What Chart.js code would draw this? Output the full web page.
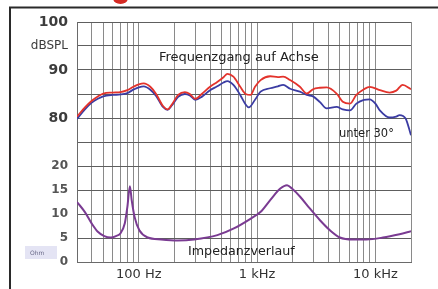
<!DOCTYPE html>
<html><head><meta charset="utf-8">
<script src="https://cdn.jsdelivr.net/npm/chart.js@4.4.1/dist/chart.umd.min.js"></script>
<style>html,body{margin:0;padding:0;background:#fff;}canvas{display:block;}</style>
</head><body>
<canvas id="c" width="438" height="289"></canvas>
<script>
// ---- data ----
const gridFreqs = [30,40,50,60,70,80,90,100,200,300,400,500,600,700,800,900,1000,2000,3000,4000,5000,6000,7000,8000,9000,10000,20000];
const xTickLabels = {100:"100 Hz", 1000:"1 kHz", 10000:"10 kHz"};
const yTickLabels = {100:"100", 95:"dBSPL", 90:"90", 85:"", 80:"80", 75:"", 70:"20", 65:"15", 60:"10", 55:"5", 50:"0"};

const onAxisFreq = [30,35,40,45,50,60,70,80,90,100,110,125,140,160,175,190,215,245,270,300,340,400,460,520,560,630,720,800,880,960,1070,1290,1500,1660,1900,2300,2630,2970,3400,3870,4700,5300,6100,6900,8000,8950,10900,13200,15000,17000,20000];
const onAxisDb   = [80.3,82.2,83.6,84.5,85.1,85.3,85.4,85.8,86.5,87.0,87.2,86.5,85.0,82.5,81.8,82.8,84.8,85.4,85.0,84.0,85.0,86.5,87.5,88.5,89.2,88.6,86.5,85.0,84.8,86.5,87.9,88.7,88.5,88.6,87.9,86.5,85.1,86.0,86.3,86.4,85.1,83.4,83.0,84.8,86.0,86.5,85.8,85.3,85.7,86.9,86.0];

const offAxisFreq = [30,35,40,45,50,60,70,80,90,100,110,125,140,160,175,190,215,245,270,300,340,400,460,520,560,630,720,800,850,960,1070,1290,1500,1660,1900,2300,2630,2970,3400,3870,4700,5300,6100,6900,8000,8950,10000,10900,13200,15000,16000,18000,20000];
const offAxisDb   = [79.8,81.8,83.2,84.0,84.5,84.8,84.9,85.2,85.9,86.4,86.6,85.9,84.6,82.3,81.7,82.6,84.4,85.0,84.7,83.8,84.4,85.8,86.6,87.4,87.7,86.9,84.8,82.8,82.2,83.8,85.5,86.2,86.6,86.9,86.1,85.5,84.8,84.5,83.3,82.0,82.3,81.8,81.6,83.0,83.8,83.9,83.0,81.6,80.1,80.3,80.6,79.9,76.4];

const impFreq = [30,35,40,45,51,58,64,70,76,80,84,87,92,101,119,154,213,293,461,636,878,1066,1290,1570,1790,1970,2310,2800,3400,4130,5010,6480,8400,11600,16000,20000];
const impOhm  = [12.5,10.4,8.0,6.3,5.4,5.1,5.4,6.0,8.0,11.5,15.8,12.9,9.4,6.6,5.1,4.7,4.5,4.7,5.6,7.0,9.0,10.4,12.9,15.3,16.0,15.3,13.6,11.1,8.7,6.6,5.1,4.7,4.7,5.1,5.8,6.4];

const labels = {onAxis:"Frequenzgang auf Achse", offAxis:"unter 30°", impedance:"Impedanzverlauf", ohm:"Ohm"};

function pts(xs, ys){ return xs.map((x,i)=>({x:x, y:ys[i]})); }

const FONT = "'DejaVu Sans', sans-serif";

const decor = {
  id:'decor',
  beforeDraw(chart){
    const ctx = chart.ctx;
    ctx.save();
    ctx.fillStyle = '#fff';
    ctx.fillRect(0,0,chart.width,chart.height);
    // red partial mark at top
    ctx.fillStyle = '#d42a24';
    ctx.beginPath();
    ctx.ellipse(120.5, -2, 7.5, 6, 0, 0, Math.PI*2);
    ctx.fill();
    // outer frame
    ctx.strokeStyle = '#2a2a2a';
    ctx.lineWidth = 2;
    ctx.beginPath();
    ctx.moveTo(10, 289); ctx.lineTo(10, 7.5); ctx.lineTo(438, 7.5);
    ctx.stroke();
    // Ohm box
    ctx.fillStyle = '#e4e4f4';
    ctx.fillRect(25, 246, 32, 13);
    ctx.fillStyle = '#6a6a88';
    ctx.font = "6px " + FONT;
    ctx.textBaseline = 'middle';
    ctx.fillText(labels.ohm, 30, 253);
    ctx.restore();
  },
  afterDatasetsDraw(chart){
    const ctx = chart.ctx;
    ctx.save();
    ctx.fillStyle = '#222';
    ctx.textBaseline = 'alphabetic';
    ctx.font = "13px " + FONT;
    ctx.fillText(labels.onAxis, 159, 61);
    ctx.font = "11.5px " + FONT;
    ctx.fillText(labels.offAxis, 339, 137);
    ctx.font = "12.7px " + FONT;
    ctx.fillText(labels.impedance, 188, 254.5);
    ctx.restore();
  }
};

new Chart(document.getElementById('c'), {
  type:'line',
  data:{
    datasets:[
      {label:labels.onAxis, data:pts(onAxisFreq,onAxisDb), borderColor:'#e3332c', borderWidth:1.8, pointRadius:0, cubicInterpolationMode:'monotone', yAxisID:'y'},
      {label:labels.offAxis, data:pts(offAxisFreq,offAxisDb), borderColor:'#3b3ca3', borderWidth:1.8, pointRadius:0, cubicInterpolationMode:'monotone', yAxisID:'y'},
      {label:labels.impedance, data:pts(impFreq,impOhm), borderColor:'#7a3b92', borderWidth:2, pointRadius:0, cubicInterpolationMode:'monotone', yAxisID:'y2'}
    ]
  },
  options:{
    responsive:false,
    animation:false,
    devicePixelRatio:1,
    layout:{padding:{top:22,right:27,left:0,bottom:0}},
    plugins:{legend:{display:false}, tooltip:{enabled:false}},
    scales:{
      x:{
        type:'logarithmic', min:30, max:20000,
        afterBuildTicks(s){ s.ticks = gridFreqs.map(v=>({value:v})); },
        afterFit(s){ s.height = 27; },
        grid:{color:'#8a8a8a', lineWidth:1, drawTicks:false},
        border:{display:true, color:'#6a6a6a'},
        ticks:{autoSkip:false, maxRotation:0, padding:5, color:'#333', font:{family:FONT, size:13},
          callback(v){ return xTickLabels[v] || ''; }}
      },
      y:{
        min:50, max:100,
        afterBuildTicks(s){ s.ticks = Object.keys(yTickLabels).map(Number).sort((a,b)=>a-b).map(v=>({value:v})); },
        afterFit(s){ s.width = 77; },
        grid:{color:'#5e5e5e', lineWidth:1, drawTicks:false},
        border:{display:true, color:'#6a6a6a'},
        ticks:{padding:9, autoSkip:false,
          color(ctx){ return ctx.tick && ctx.tick.value>=75 ? '#3c3c3c' : '#555'; },
          font(ctx){
            const v = ctx.tick ? ctx.tick.value : 0;
            if (v===95) return {family:FONT, size:12, weight:'normal'};
            if (v>=75) return {family:FONT, size:14, weight:'bold'};
            return {family:FONT, size:12, weight:'bold'};
          },
          callback(v){ return yTickLabels[v]; }}
      },
      y2:{
        min:0, max:50, display:false
      }
    }
  },
  plugins:[decor]
});
</script>
</body></html>
